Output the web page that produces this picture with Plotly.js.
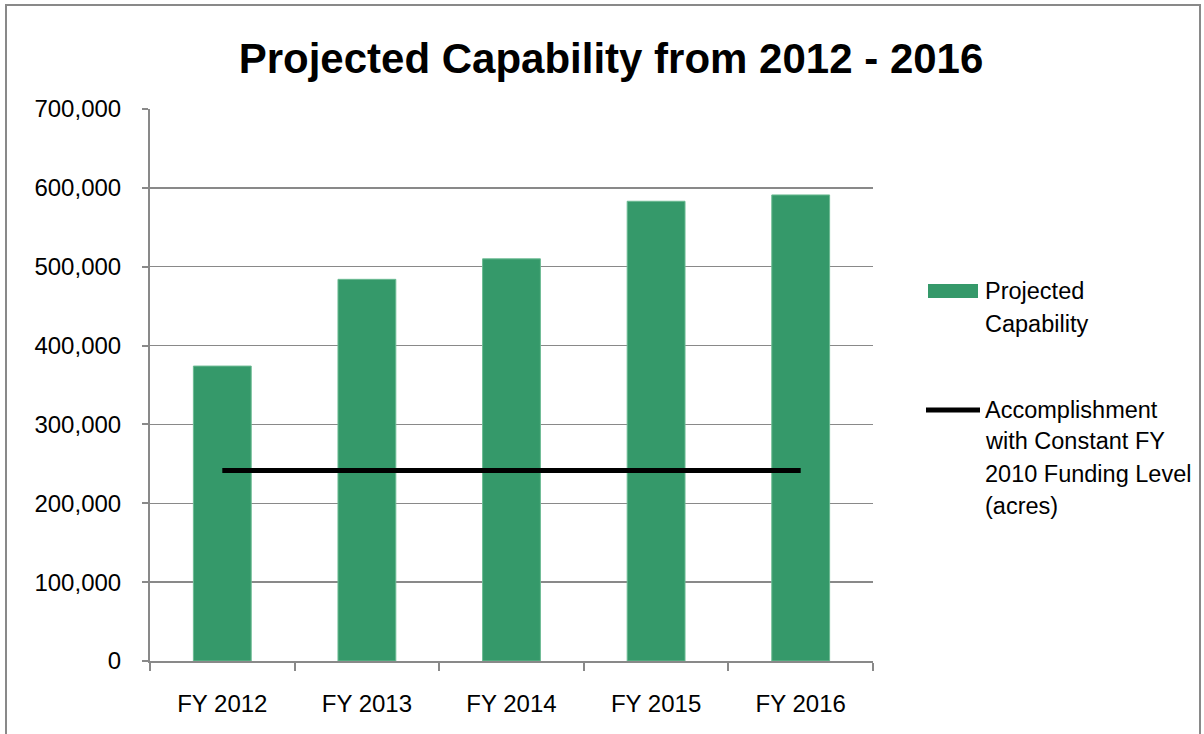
<!DOCTYPE html>
<html>
<head>
<meta charset="utf-8">
<script src="https://cdn.plot.ly/plotly-3.0.1.min.js"></script>
<style>
  html, body { margin: 0; padding: 0; background: #fff; }
  #chart { width: 1204px; height: 734px; }
</style>
</head>
<body>
<div id="chart"></div>
<script>
const categories = ['FY 2012', 'FY 2013', 'FY 2014', 'FY 2015', 'FY 2016'];
const projectedCapability = [374000, 484000, 510000, 583000, 591000];
const constantFunding = [241500, 241500, 241500, 241500, 241500];
const seriesNames = ['Projected Capability', 'Accomplishment with Constant FY 2010 Funding Level (acres)'];
const yTickValues = [0, 100000, 200000, 300000, 400000, 500000, 600000, 700000];

const FONT = '"Liberation Sans", Arial, sans-serif';
const GRAY = '#898989';
const GREEN = '#35996a';

const traces = [
  {
    type: 'bar',
    name: seriesNames[0],
    x: categories,
    y: projectedCapability,
    marker: { color: GREEN, line: { color: '#6cbb93', width: 1 } },
    showlegend: false,
    hoverinfo: 'x+y'
  },
  {
    type: 'scatter',
    mode: 'lines',
    name: seriesNames[1],
    x: categories,
    y: constantFunding,
    line: { color: '#000000', width: 5 },
    showlegend: false,
    hoverinfo: 'x+y'
  }
];

// plot area geometry: left 150, right 873, top 109, bottom 661
const L = 150, R = 873, T = 109, B = 661;
const W = 1204, H = 734;
const px = x => (x - L) / (R - L);
const py = y => (B - y) / (B - T);

const legendText = [
  ['Projected', 291], ['Capability', 324],
  ['Accomplishment', 410], ['with Constant FY', 441],
  ['2010 Funding Level', 474], ['(acres)', 506]
];

const annotations = legendText.map(([t, y]) => ({
  xref: 'paper', yref: 'paper',
  x: px(983), y: py(y),
  xanchor: 'left', yanchor: 'middle',
  text: t, showarrow: false,
  font: { family: FONT, size: 23.5, color: '#000' }
}));

const shapes = [
  // outer chart border
  { type: 'rect', xref: 'paper', yref: 'paper',
    x0: px(6), x1: px(1200), y0: py(745), y1: py(5),
    line: { color: GRAY, width: 2 }, fillcolor: 'rgba(0,0,0,0)', layer: 'below' },
  // legend swatch for bars
  { type: 'rect', xref: 'paper', yref: 'paper',
    x0: px(928), x1: px(978), y0: py(298), y1: py(284),
    line: { width: 0 }, fillcolor: GREEN },
  // legend swatch for line
  { type: 'line', xref: 'paper', yref: 'paper',
    x0: px(926), x1: px(980), y0: py(410), y1: py(410),
    line: { color: '#000', width: 5 } }
];

const layout = {
  width: W, height: H,
  margin: { l: L, r: W - R, t: T, b: H - B, pad: 0 },
  paper_bgcolor: '#fff',
  plot_bgcolor: '#fff',
  font: { family: FONT, size: 24, color: '#000' },
  title: {
    text: '<b>Projected Capability from 2012 - 2016</b>',
    font: { family: FONT, size: 42, color: '#000' },
    x: 611 / W, xanchor: 'center', xref: 'container',
    y: 1 - 58 / H, yanchor: 'middle', yref: 'container'
  },
  bargap: 0.6,
  xaxis: {
    type: 'category',
    tickson: 'boundaries',
    ticks: 'outside', ticklen: 8, tickwidth: 2, tickcolor: GRAY,
    showline: true, linecolor: GRAY, linewidth: 2,
    showgrid: false,
    tickfont: { family: FONT, size: 24, color: '#000' },
    ticklabelstandoff: 20,
    fixedrange: true
  },
  yaxis: {
    range: [0, 700000],
    tickvals: yTickValues,
    tickformat: ',',
    ticks: 'outside', ticklen: 6, tickwidth: 2, tickcolor: GRAY,
    showline: true, linecolor: GRAY, linewidth: 2,
    showgrid: true, gridcolor: GRAY, gridwidth: 1.5,
    zeroline: false,
    tickfont: { family: FONT, size: 24, color: '#000' },
    ticklabelstandoff: 16,
    fixedrange: true
  },
  showlegend: false,
  annotations: annotations,
  shapes: shapes
};

Plotly.newPlot('chart', traces, layout, { displayModeBar: false, staticPlot: true });
</script>
</body>
</html>
